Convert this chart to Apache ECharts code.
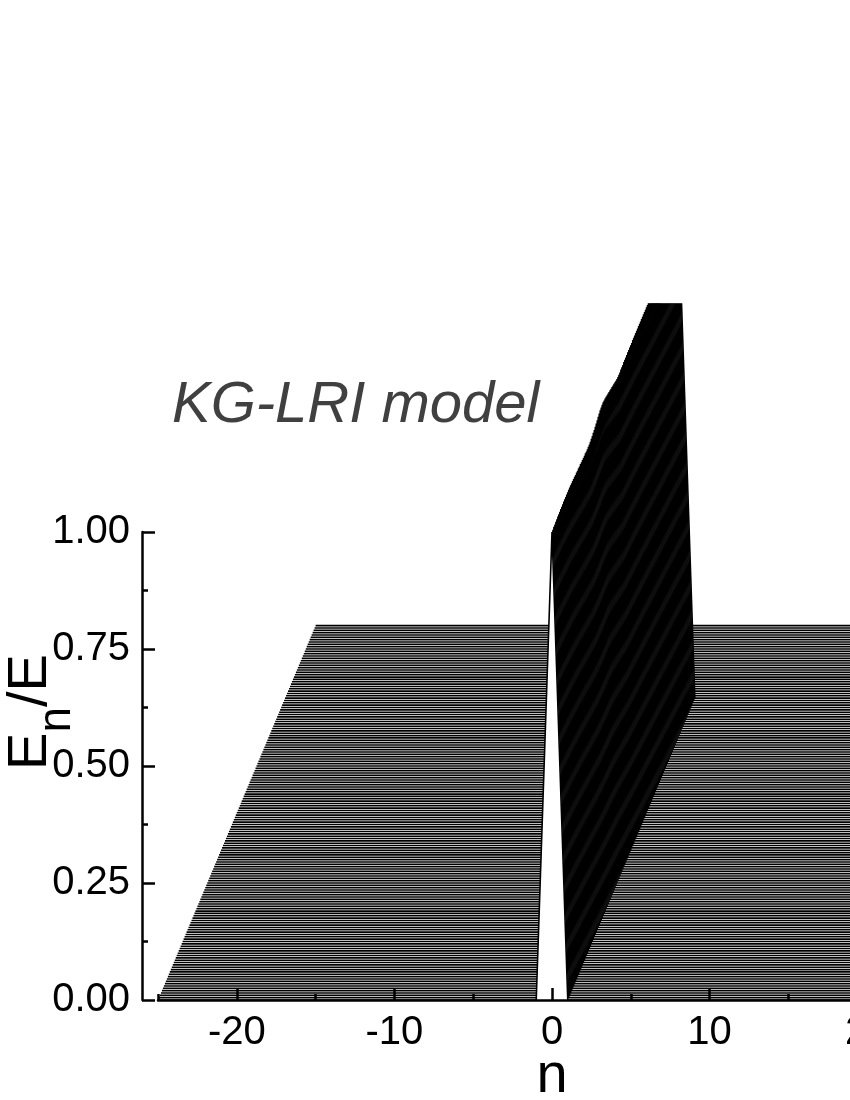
<!DOCTYPE html>
<html><head><meta charset="utf-8">
<style>html,body{margin:0;padding:0;background:#fff}#c{width:850px;height:1100px}</style>
<script src="https://cdn.jsdelivr.net/npm/echarts@6/dist/echarts.min.js"></script>
</head><body><div id="c"></div>
<script>
const FONT = '"Liberation Sans", Arial, sans-serif';
// Site index of each profile, and the profile shape around the localized site
const siteN = [-25, -1, 0, 1, 25];
const xMajorTicks = [-20, -10, 0, 10, 20];
const xMinorTicks = [-25, -15, -5, 5, 15, 25];
// Waterfall: each trace is lifted by traceLift and slid by n = lift * slide
const slide = 12.5;
const traceLift = [
0.000,0.005,0.010,0.015,0.020,0.025,0.030,0.035,0.040,0.045,0.050,0.055,0.060,0.065,0.070,0.075,
0.080,0.085,0.090,0.095,0.100,0.105,0.110,0.115,0.120,0.125,0.130,0.135,0.140,0.145,0.150,0.155,
0.160,0.165,0.170,0.175,0.180,0.185,0.190,0.195,0.200,0.205,0.210,0.215,0.220,0.225,0.230,0.235,
0.240,0.245,0.250,0.255,0.260,0.265,0.270,0.275,0.280,0.285,0.290,0.295,0.300,0.305,0.310,0.315,
0.320,0.325,0.330,0.335,0.340,0.345,0.350,0.355,0.360,0.365,0.370,0.375,0.380,0.385,0.390,0.395,
0.400,0.405,0.410,0.415,0.420,0.425,0.430,0.435,0.440,0.445,0.450,0.455,0.460,0.465,0.470,0.475,
0.480,0.485,0.490,0.495,0.500,0.505,0.510,0.515,0.520,0.525,0.530,0.535,0.540,0.545,0.550,0.555,
0.560,0.565,0.570,0.575,0.580,0.585,0.590,0.595,0.600,0.605,0.610,0.615,0.620,0.625,0.630,0.635,
0.640,0.645,0.650,0.655,0.660,0.665,0.670,0.675,0.680,0.685,0.690,0.695,0.700,0.705,0.710,0.715,
0.720,0.725,0.730,0.735,0.740,0.745,0.750,0.755,0.760,0.765,0.770,0.775,0.780,0.785,0.790,0.795,0.800];
// Energy at the central site, trace by trace (the later traces show no peak)
const peakEnergy = [
1.000,1.000,1.001,1.001,1.002,1.002,1.003,1.003,1.003,1.004,1.004,1.004,1.005,1.005,1.005,1.005,
1.005,1.005,1.005,1.005,1.004,1.004,1.003,1.003,1.002,1.002,1.001,1.001,1.000,1.000,0.999,0.999,
0.998,0.998,0.998,0.997,0.997,0.997,0.997,0.998,0.999,1.000,1.002,1.003,1.005,1.007,1.009,1.011,
1.013,1.015,1.016,1.017,1.017,1.016,1.015,1.014,1.012,1.011,1.009,1.008,1.006,1.005,1.003,1.002,
1.000,0.998,0.997,0.996,0.996,0.996,0.997,0.997,0.997,0.998,0.998,0.998,0.998,0.999,0.999,0.999,
0.999,0.999,1.000,1.000,1.000,1.000,1.000,1.000,1.000,1.000,1.000,1.000,1.000,1.000,1.000,1.000,
1.000,1.000,1.000,1.000,1.000,1.000,1.000,1.000,1.000,1.000,1.000,1.000,1.000,1.000,1.000,1.000,
1.000,1.000,1.000,1.000,1.000,1.000,1.000,1.000,1.000,1.000,1.000,1.000,1.000,1.000,1.000,1.000,
1.000,1.000];

const series = [];
for (let i = traceLift.length - 1; i >= 0; i--) {
  const lift = traceLift[i];
  const peak = i < peakEnergy.length ? peakEnergy[i] : 0;
  const shape = [0, 0, peak, 0, 0];
  series.push({
    type: 'line', xAxisIndex: 0, yAxisIndex: 0, z: 3 + series.length, silent: true, clip: true,
    showSymbol: false, symbol: 'none', animation: false, connectNulls: false,
    lineStyle: { color: '#000', width: 1.6, join: 'miter' },
    areaStyle: { color: '#fff', opacity: 1 },
    data: siteN.map((n, k) => [n + lift * slide, shape[k] + lift])
  });
}

const axLine = { show: true, onZero: false, lineStyle: { color: '#000', width: 2.5 } };
const axTick = { lineStyle: { color: '#000', width: 2.5 } };
const option = {
  backgroundColor: '#fff',
  animation: false,
  title: {
    text: 'KG-LRI model', left: 167, top: 372,
    textStyle: { fontFamily: FONT, fontStyle: 'italic', fontWeight: 'normal', fontSize: 58, color: '#404040' }
  },
  grid: [
    { left: 158, top: 304, width: 788, height: 696, show: false, outerBoundsMode: 'none', containLabel: false },
    { left: 158, top: 532, width: 788, height: 468, show: false, outerBoundsMode: 'none', containLabel: false }
  ],
  xAxis: [
    {
      gridIndex: 0, type: 'value', min: -25, max: 25, position: 'bottom', z: 1000,
      name: 'n', nameLocation: 'middle', nameGap: 49, nameMoveOverlap: false,
      nameTextStyle: { fontFamily: FONT, fontSize: 56, color: '#000' },
      axisLine: axLine, splitLine: { show: false },
      axisTick: { show: true, inside: true, length: 12, customValues: xMajorTicks, lineStyle: axTick.lineStyle },
      axisLabel: { show: true, customValues: xMajorTicks, margin: 13, fontFamily: FONT, fontSize: 40, color: '#000' }
    },
    {
      gridIndex: 1, type: 'value', min: -25, max: 25, position: 'bottom', z: 1000,
      axisLine: { show: false }, splitLine: { show: false },
      axisTick: { show: true, inside: true, length: 6, customValues: xMinorTicks, lineStyle: axTick.lineStyle },
      axisLabel: { show: false }
    }
  ],
  yAxis: [
    { gridIndex: 0, type: 'value', min: 0, max: 1.4872, show: false, splitLine: { show: false } },
    {
      gridIndex: 1, type: 'value', min: 0, max: 1, interval: 0.25, position: 'left', offset: 16, z: 1000,
      axisLine: axLine, splitLine: { show: false },
      axisTick: { show: true, inside: true, length: 13, lineStyle: axTick.lineStyle },
      minorTick: { show: true, splitNumber: 2, length: 6, lineStyle: axTick.lineStyle },
      axisLabel: { margin: 12, fontFamily: FONT, fontSize: 40, color: '#000', formatter: v => v.toFixed(2) },
      name: '{e|E}{s|n}{e|/E}', nameLocation: 'middle', nameGap: 83, nameRotate: 90, nameMoveOverlap: false,
      nameTextStyle: {
        padding: [0, 0, 0, 108],
        rich: {
          e: { fontFamily: FONT, fontSize: 56, color: '#000', lineHeight: 56 },
          s: { fontFamily: FONT, fontSize: 46, color: '#000', lineHeight: 46, padding: [53, 0, 0, 0] }
        }
      }
    }
  ],
  series: series
};
echarts.init(document.getElementById('c'), null, { renderer: 'canvas' }).setOption(option);
</script></body></html>
